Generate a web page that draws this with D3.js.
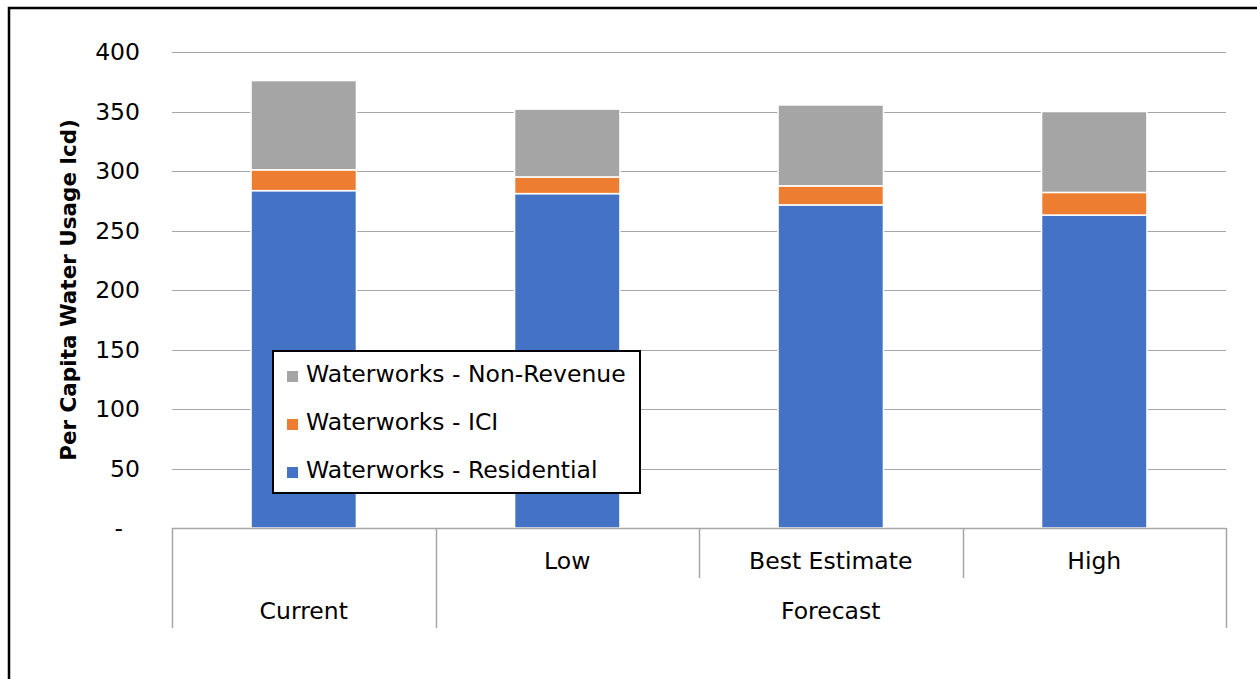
<!DOCTYPE html>
<html>
<head>
<meta charset="utf-8">
<script src="https://cdn.jsdelivr.net/npm/d3@7"></script>
<style>
  html, body { margin: 0; padding: 0; background: #fff; }
  svg { display: block; }
  text { font-family: "DejaVu Sans", sans-serif; fill: #000; }
</style>
</head>
<body>
<svg id="chart" width="1257" height="679"></svg>
<script>
// ---- data ----
const categories = ["Current", "Low", "Best Estimate", "High"];
const innerLabels = ["", "Low", "Best Estimate", "High"];
const groups = ["Current", "Forecast"];
const groupOf = ["Current", "Forecast", "Forecast", "Forecast"];
const residential = [283.5, 281, 271.5, 263];
const ici = [17.5, 14, 16, 19];
const nonRevenue = [75, 57, 68, 68];
const seriesNames = ["Waterworks - Residential", "Waterworks - ICI", "Waterworks - Non-Revenue"];
const seriesColors = ["#4472C4", "#ED7D31", "#A5A5A5"];
const yTicks = [0, 50, 100, 150, 200, 250, 300, 350, 400];
const yTitle = "Per Capita Water Usage lcd)";

// ---- layout ----
const svg = d3.select("#chart");
const plot = { left: 172, right: 1226, top: 52, bottom: 528 };
const fontSize = 23.5;

// outer border
svg.append("rect").attr("x", 9).attr("y", 8).attr("width", 1300).attr("height", 720)
  .attr("fill", "none").attr("stroke", "#000").attr("stroke-width", 2.5);

const x = d3.scaleBand().domain(categories).range([plot.left, plot.right])
  .paddingInner(0.6).paddingOuter(0.3);
const y = d3.scaleLinear().domain([0, 400]).range([plot.bottom, plot.top]);

// gridlines
svg.append("g").selectAll("line").data(yTicks.filter(d => d > 0)).join("line")
  .attr("x1", plot.left).attr("x2", plot.right)
  .attr("y1", d => Math.round(y(d)) + 0.5).attr("y2", d => Math.round(y(d)) + 0.5)
  .attr("stroke", "#a6a6a6").attr("stroke-width", 1.2);

// y tick labels
svg.append("g").selectAll("text").data(yTicks).join("text")
  .attr("x", d => d === 0 ? 123 : 140)
  .attr("y", d => y(d))
  .attr("dy", "0.36em")
  .attr("text-anchor", "end")
  .style("font-size", fontSize + "px")
  .text(d => d === 0 ? "-" : d);

// stacked bars
const rows = categories.map((c, i) => ({ cat: c, res: residential[i], ici: ici[i], nrw: nonRevenue[i] }));
const stack = d3.stack().keys(["res", "ici", "nrw"]);
const stacked = stack(rows);
svg.append("g").selectAll("g").data(stacked).join("g")
  .attr("fill", (d, i) => seriesColors[i])
  .selectAll("rect").data(d => d).join("rect")
  .attr("x", d => x(d.data.cat))
  .attr("width", x.bandwidth())
  .attr("y", d => y(d[1]))
  .attr("height", d => y(d[0]) - y(d[1]))
  .attr("stroke", "#fff").attr("stroke-width", 1.5);

// category axis (multi-level)
const axisColor = "#a6a6a6";
svg.append("line").attr("x1", plot.left).attr("x2", plot.right)
  .attr("y1", plot.bottom + 0.5).attr("y2", plot.bottom + 0.5)
  .attr("stroke", axisColor).attr("stroke-width", 1.5);

const step = x.step();
const boundaries = d3.range(categories.length + 1).map(i => plot.left + i * step);
boundaries.forEach((bx, i) => {
  const isGroupEdge = i === 0 || i === categories.length || groupOf[i] !== groupOf[i - 1];
  svg.append("line").attr("x1", Math.round(bx) + 0.5).attr("x2", Math.round(bx) + 0.5)
    .attr("y1", plot.bottom).attr("y2", plot.bottom + (isGroupEdge ? 100 : 50))
    .attr("stroke", axisColor).attr("stroke-width", 1.5);
});

svg.append("g").selectAll("text").data(innerLabels).join("text")
  .attr("x", (d, i) => x(categories[i]) + x.bandwidth() / 2)
  .attr("y", 569)
  .attr("text-anchor", "middle")
  .style("font-size", fontSize + "px")
  .text(d => d);

groups.forEach(g => {
  const idx = categories.map((c, i) => i).filter(i => groupOf[i] === g);
  const x0 = boundaries[idx[0]], x1 = boundaries[idx[idx.length - 1] + 1];
  svg.append("text").attr("x", (x0 + x1) / 2).attr("y", 619)
    .attr("text-anchor", "middle").style("font-size", fontSize + "px").text(g);
});

// y title
svg.append("text")
  .attr("transform", `translate(76, ${(plot.top + plot.bottom) / 2}) rotate(-90)`)
  .attr("text-anchor", "middle")
  .style("font-size", "21.5px").style("font-weight", "bold")
  .text(yTitle);

// legend
const lg = svg.append("g");
lg.append("rect").attr("x", 273).attr("y", 351).attr("width", 367).attr("height", 142)
  .attr("fill", "#fff").attr("stroke", "#000").attr("stroke-width", 2);
const legendOrder = [2, 1, 0];
legendOrder.forEach((si, r) => {
  const base = 382 + r * 48;
  lg.append("rect").attr("x", 287).attr("y", base - 11).attr("width", 11).attr("height", 11)
    .attr("fill", seriesColors[si]);
  lg.append("text").attr("x", 306).attr("y", base)
    .style("font-size", fontSize + "px").text(seriesNames[si]);
});
</script>
</body>
</html>
